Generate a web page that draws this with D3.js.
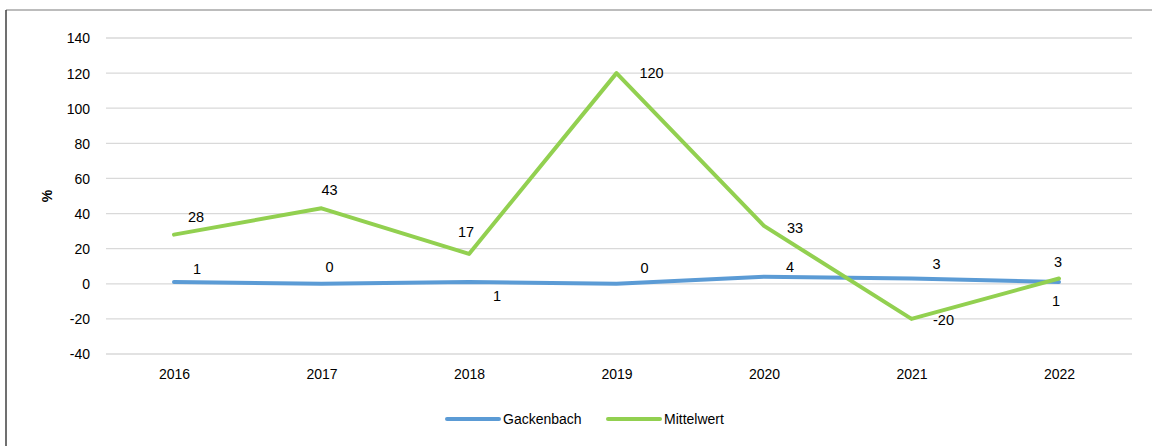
<!DOCTYPE html>
<html><head><meta charset="utf-8">
<script src="https://cdn.jsdelivr.net/npm/d3@7"></script>
<style>body{margin:0;background:#fff}svg{display:block;font-family:"Liberation Sans",Arial,sans-serif}</style>
</head><body><svg id="c" width="1152" height="446"></svg>
<script>
const years = ["2016","2017","2018","2019","2020","2021","2022"];
const gackenbach = [1,0,1,0,4,3,1];
const mittelwert = [28,43,17,120,33,-20,3];
const yTicks = [-40,-20,0,20,40,60,80,100,120,140];
// label offsets relative to point (dx, dy of text baseline-center)
const gackOffsets = [[23,-8],[8,-12],[28,19],[28,-11],[26,-5],[25,-10],[-3,24]];
const mittOffsets = [[22,-13],[8,-13],[-3,-17],[35,5],[31,7],[32,6],[-1,-12]];

const svg = d3.select("#c");
const x = d3.scalePoint().domain(years).range([174,1059]);
const y = d3.scaleLinear().domain([-40,140]).range([354,38]);

// frame
svg.append("line").attr("x1",6).attr("x2",1152).attr("y1",10).attr("y2",10).attr("stroke","#a6a6a6").attr("stroke-width",1.5);
svg.append("line").attr("x1",6).attr("x2",6).attr("y1",10).attr("y2",446).attr("stroke","#404040").attr("stroke-width",1.5);

// grid
svg.append("g").selectAll("line").data(yTicks).join("line")
  .attr("x1",106).attr("x2",1132).attr("y1",d=>y(d)).attr("y2",d=>y(d))
  .attr("stroke","#d9d9d9").attr("stroke-width",1.3);

// y axis labels
const yAxis = d3.axisLeft(y).tickValues(yTicks).tickFormat(d=>String(d)).tickSize(0).tickPadding(0);
const ga = svg.append("g").attr("transform","translate(90,0)").call(yAxis);
ga.select(".domain").remove();
ga.selectAll("text").attr("font-size",14).attr("fill","#000").attr("font-family","Liberation Sans, Arial, sans-serif").attr("dy","0.35em");

// x axis labels
const xAxis = d3.axisBottom(x).tickSize(0).tickPadding(0);
const gx = svg.append("g").attr("transform","translate(0,369)").call(xAxis);
gx.select(".domain").remove();
gx.selectAll("text").attr("font-size",14).attr("fill","#000").attr("font-family","Liberation Sans, Arial, sans-serif").attr("dy","0.71em");

// y title
svg.append("text").attr("transform","translate(52,196) rotate(-90)").attr("text-anchor","middle")
  .attr("font-size",14).attr("font-weight","bold").text("%");

const line = d3.line().x((d,i)=>x(years[i])).y(d=>y(d));
svg.append("path").datum(gackenbach).attr("d",line).attr("fill","none").attr("stroke","#5b9bd5").attr("stroke-width",4).attr("stroke-linecap","round").attr("stroke-linejoin","round");
svg.append("path").datum(mittelwert).attr("d",line).attr("fill","none").attr("stroke","#92d050").attr("stroke-width",4).attr("stroke-linecap","round").attr("stroke-linejoin","round");

function labels(data, offs){
  svg.append("g").selectAll("text").data(data).join("text")
    .attr("x",(d,i)=>x(years[i])+offs[i][0]).attr("y",(d,i)=>y(d)+offs[i][1])
    .attr("text-anchor","middle").attr("font-size",14.5).attr("fill","#000").text(d=>String(d));
}
labels(gackenbach,gackOffsets);
labels(mittelwert,mittOffsets);

// legend
const legend = [["Gackenbach","#5b9bd5",447],["Mittelwert","#92d050",608]];
legend.forEach(([name,col,lx])=>{
  svg.append("line").attr("x1",lx).attr("x2",lx+52).attr("y1",419).attr("y2",419).attr("stroke",col).attr("stroke-width",4).attr("stroke-linecap","round");
  svg.append("text").attr("x",lx+56).attr("y",424).attr("font-size",14).attr("fill","#000").text(name);
});
</script></body></html>
